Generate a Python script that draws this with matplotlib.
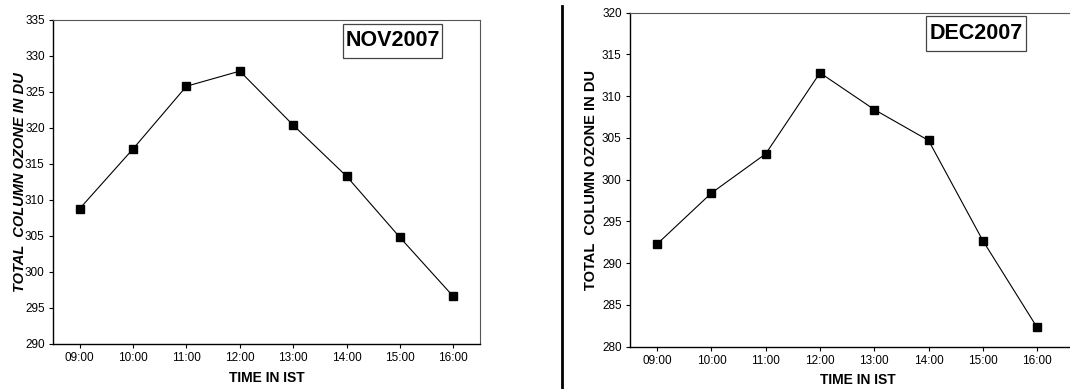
import matplotlib.pyplot as plt
from matplotlib.lines import Line2D
from matplotlib.patches import Rectangle

plt.rcParams['font.family'] = ['Liberation Sans', 'DejaVu Sans']

times = ['09:00', '10:00', '11:00', '12:00', '13:00', '14:00', '15:00', '16:00']
nov_ozone = [308.8, 317.1, 325.8, 327.9, 320.4, 313.3, 304.8, 296.6]
dec_ozone = [292.3, 298.4, 303.1, 312.8, 308.4, 304.7, 292.7, 282.3]

W, H = 1070, 389
fig = plt.figure(figsize=(W / 100, H / 100), dpi=100)


def px_axes(x0, y0, x1, y1):
    # pixel box (top-left origin) -> figure fraction axes
    return fig.add_axes([x0 / W, 1 - y1 / H, (x1 - x0) / W, (y1 - y0) / H])


def tag_box(text, x0, y0, x1, y1):
    fig.add_artist(Rectangle((x0 / W, 1 - y1 / H), (x1 - x0) / W, (y1 - y0) / H,
                             transform=fig.transFigure, fc='white',
                             ec='#444444', lw=0.9))
    fig.text((x0 + x1) / 2 / W, 1 - (y0 + y1) / 2 / H, text, fontsize=15.5,
             fontweight='bold', ha='center', va='center')


def draw_panel(ax, values, ylim, yticks, xlim, ylab_italic, ypad, xpad):
    x = list(range(len(times)))
    ax.plot(x, values, color='black', lw=0.8, marker='s', ms=5.5,
            mfc='black', mec='black')
    ax.set_xlim(*xlim)
    ax.set_ylim(*ylim)
    ax.set_xticks(x)
    ax.set_xticklabels(times)
    ax.set_yticks(yticks)
    ax.tick_params(labelsize=8.5, length=3, width=0.8, direction='out', pad=3)
    for s in ('left', 'bottom'):
        ax.spines[s].set_color('black')
        ax.spines[s].set_linewidth(1.0)
    for s in ('top', 'right'):
        ax.spines[s].set_color('#555555')
        ax.spines[s].set_linewidth(0.8)
    ax.set_xlabel('TIME IN IST', fontsize=10, fontweight='bold', labelpad=xpad)
    ax.set_ylabel('TOTAL  COLUMN OZONE IN DU', fontsize=10.5, fontweight='bold',
                  style='italic' if ylab_italic else 'normal', labelpad=ypad)


ax1 = px_axes(53, 20, 480, 344)
draw_panel(ax1, nov_ozone, (290, 335), range(290, 336, 5), (-0.5, 7.5), True,
           ypad=-1.5, xpad=5)
tag_box('NOV2007', 343, 24, 442, 58)

ax2 = px_axes(630, 12.7, 1086, 346.7)
draw_panel(ax2, dec_ozone, (280, 320), range(280, 321, 5), (-0.5, 7.9), False,
           ypad=3, xpad=4)
tag_box('DEC2007', 926, 16, 1026, 51)

# divider between the two panels
fig.add_artist(Line2D([562 / W, 562 / W], [0, 1 - 6 / H],
                      transform=fig.transFigure, color='black', lw=2))

fig.savefig('out.png', dpi=100)
